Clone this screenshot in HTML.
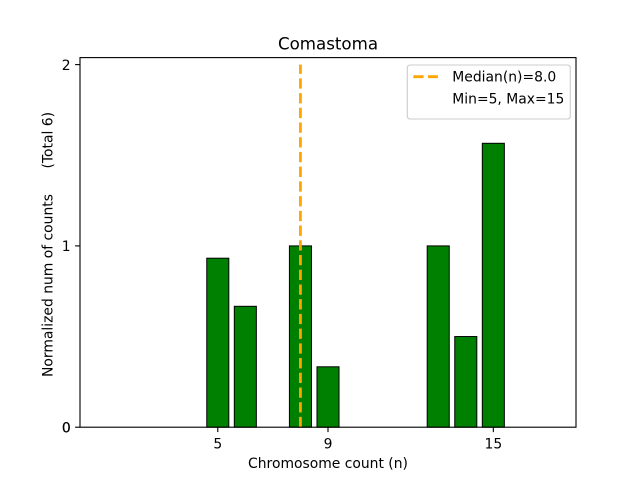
<!DOCTYPE html>
<html>
<head>
<meta charset="utf-8">
<style>
  html, body { margin: 0; padding: 0; background: #ffffff; }
  svg { display: block; }
  text { font-family: "DejaVu Sans", "Liberation Sans", sans-serif; fill: #000; }
</style>
</head>
<body>
<svg width="640" height="480" viewBox="0 0 640 480" xmlns="http://www.w3.org/2000/svg">
  <rect x="0" y="0" width="640" height="480" fill="#ffffff"/>

  <!-- bars -->
  <g fill="#008000" stroke="#000000" stroke-width="1">
    <rect x="206.76" y="258.2" width="22.04" height="169.0"/>
    <rect x="234.31" y="306.3" width="22.04" height="120.9"/>
    <rect x="289.42" y="245.9" width="22.04" height="181.3"/>
    <rect x="316.98" y="366.8" width="22.04" height="60.4"/>
    <rect x="427.2" y="245.9" width="22.04" height="181.3"/>
    <rect x="454.76" y="336.55" width="22.04" height="90.65"/>
    <rect x="482.31" y="143.3" width="22.04" height="283.9"/>
  </g>

  <!-- median line -->
  <line x1="300.44" y1="427.2" x2="300.44" y2="64.6" stroke="#FFA500" stroke-width="2.78" stroke-dasharray="10.28 4.44"/>

  <!-- axes frame -->
  <rect x="80" y="57.6" width="496" height="369.6" fill="none" stroke="#000" stroke-width="1.11"/>

  <!-- ticks -->
  <g stroke="#000" stroke-width="1.11">
    <line x1="75.1" y1="427.2" x2="80" y2="427.2"/>
    <line x1="75.1" y1="245.9" x2="80" y2="245.9"/>
    <line x1="75.1" y1="64.6" x2="80" y2="64.6"/>
    <line x1="217.78" y1="427.2" x2="217.78" y2="432.1"/>
    <line x1="328.0" y1="427.2" x2="328.0" y2="432.1"/>
    <line x1="493.33" y1="427.2" x2="493.33" y2="432.1"/>
  </g>
  <g font-size="13.9" text-anchor="end">
    <text x="70.6" y="432.4">0</text>
    <text x="70.9" y="432.4">0</text>
    <text x="70.6" y="251.1">1</text>
    <text x="70.6" y="69.8">2</text>
  </g>
  <g font-size="13.9" text-anchor="middle">
    <text x="217.78" y="448.4">5</text>
    <text x="328.0" y="448.4">9</text>
    <text x="493.33" y="448.4">15</text>
  </g>

  <!-- labels -->
  <text x="328" y="49.3" font-size="16.67" text-anchor="middle">Comastoma</text>
  <text x="328" y="467.8" font-size="13.9" text-anchor="middle">Chromosome count (n)</text>
  <text transform="translate(52.5,377) rotate(-90)" font-size="13.9" text-anchor="start">Normalized num of counts</text>
  <text transform="translate(52.5,112) rotate(-90)" font-size="13.9" text-anchor="end">(Total 6)</text>

  <!-- legend -->
  <rect x="407.3" y="65" width="163" height="54" rx="2.8" ry="2.8" fill="#ffffff" fill-opacity="0.8" stroke="#cccccc" stroke-width="1.11"/>
  <line x1="413.3" y1="76.7" x2="437.9" y2="76.7" stroke="#FFA500" stroke-width="2.78" stroke-dasharray="10.28 4.44"/>
  <text x="452.3" y="81.7" font-size="13.9">Median(n)=8.0</text>
  <text x="452.3" y="103.3" font-size="13.9">Min=5, Max=15</text>
</svg>
</body>
</html>
